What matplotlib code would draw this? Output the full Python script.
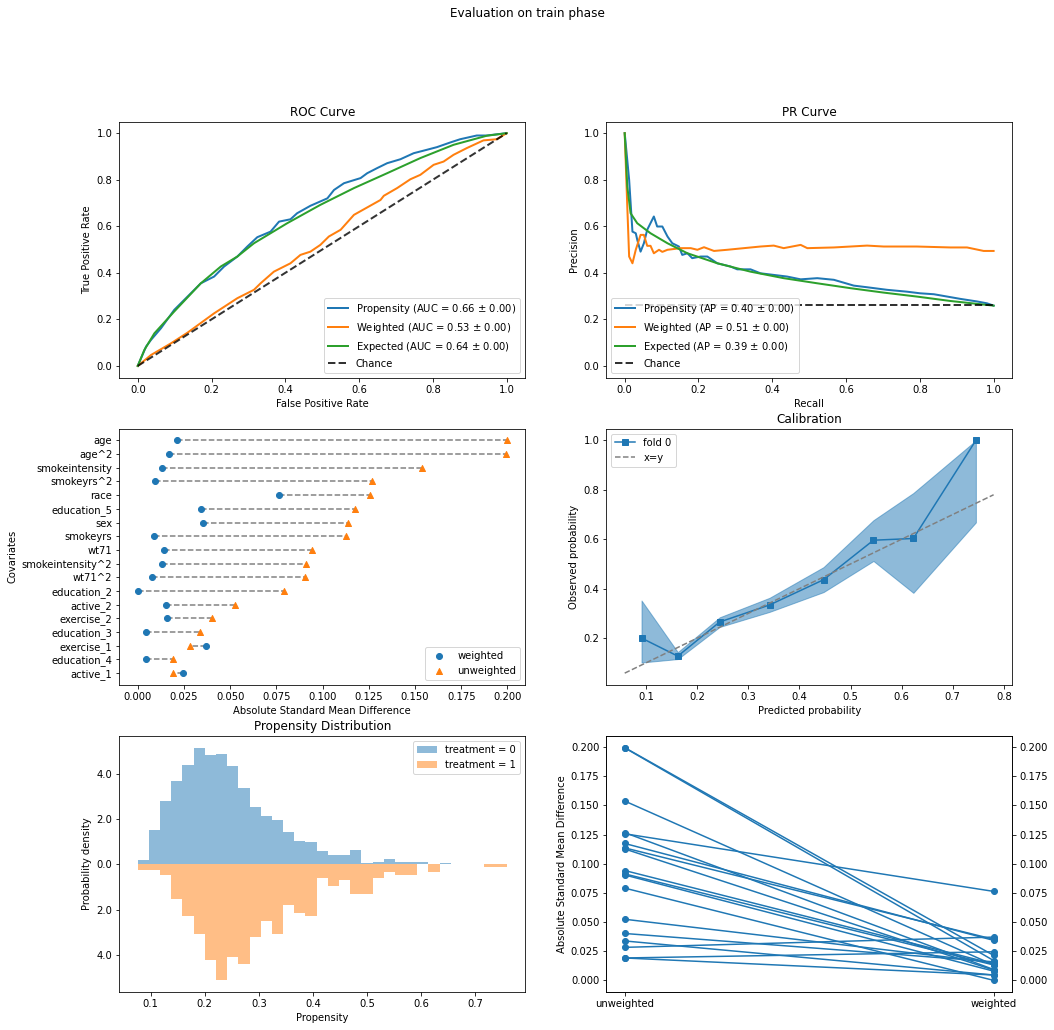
import numpy as np
import matplotlib.pyplot as plt
from matplotlib.ticker import FuncFormatter

# ROC curves
roc_prop_fpr = [0, 0.0225, 0.036, 0.063, 0.099, 0.135, 0.171, 0.207, 0.234, 0.27, 0.297, 0.324, 0.36,
                0.383, 0.414, 0.432, 0.468, 0.514, 0.532, 0.559, 0.604, 0.622, 0.649, 0.676, 0.712,
                0.748, 0.775, 0.811, 0.847, 0.874, 0.919, 0.946, 1.0]
roc_prop_tpr = [0, 0.083, 0.112, 0.162, 0.241, 0.298, 0.355, 0.384, 0.427, 0.47, 0.513, 0.553, 0.577,
                0.62, 0.63, 0.656, 0.688, 0.72, 0.756, 0.785, 0.807, 0.828, 0.85, 0.871, 0.888,
                0.914, 0.925, 0.94, 0.96, 0.974, 0.99, 0.99, 1.0]
roc_wt_fpr = [0, 0.036, 0.09, 0.135, 0.207, 0.27, 0.315, 0.333, 0.369, 0.414, 0.441, 0.468, 0.495,
              0.518, 0.55, 0.586, 0.613, 0.658, 0.667, 0.703, 0.739, 0.766, 0.802, 0.829, 0.856,
              0.892, 0.937, 0.973, 1.0]
roc_wt_tpr = [0, 0.047, 0.097, 0.143, 0.226, 0.291, 0.327, 0.355, 0.405, 0.441, 0.477, 0.491, 0.52,
              0.556, 0.585, 0.649, 0.673, 0.713, 0.731, 0.764, 0.802, 0.821, 0.864, 0.878, 0.907,
              0.936, 0.969, 0.974, 1.0]
roc_exp_fpr = [0, 0.018, 0.045, 0.099, 0.171, 0.225, 0.27, 0.315, 0.405, 0.495, 0.586, 0.676, 0.766,
               0.856, 0.946, 1.0]
roc_exp_tpr = [0, 0.069, 0.14, 0.234, 0.355, 0.427, 0.47, 0.527, 0.613, 0.692, 0.764, 0.828, 0.893,
               0.95, 0.989, 1.0]

# PR curves
pr_prop_rec = [0, 0.012, 0.021, 0.03, 0.034, 0.043, 0.052, 0.061, 0.079, 0.088, 0.102, 0.116, 0.129,
               0.147, 0.156, 0.17, 0.183, 0.206, 0.224, 0.251, 0.287, 0.305, 0.341, 0.368, 0.404,
               0.44, 0.477, 0.522, 0.567, 0.621, 0.657, 0.711, 0.765, 0.801, 0.838, 0.874, 0.91,
               0.955, 0.982, 1.0]
pr_prop_prec = [1.0, 0.8, 0.577, 0.57, 0.542, 0.491, 0.527, 0.585, 0.642, 0.599, 0.599, 0.556, 0.527,
                0.513, 0.477, 0.484, 0.463, 0.47, 0.47, 0.441, 0.427, 0.415, 0.415, 0.398, 0.391,
                0.384, 0.372, 0.377, 0.37, 0.345, 0.338, 0.327, 0.319, 0.312, 0.308, 0.298, 0.288,
                0.277, 0.269, 0.259]
pr_wt_rec = [0, 0.007, 0.012, 0.021, 0.03, 0.043, 0.052, 0.061, 0.07, 0.079, 0.093, 0.102, 0.116,
             0.152, 0.179, 0.197, 0.215, 0.242, 0.278, 0.323, 0.368, 0.404, 0.431, 0.477, 0.495,
             0.567, 0.657, 0.702, 0.792, 0.883, 0.928, 0.973, 1.0]
pr_wt_prec = [1.0, 0.685, 0.47, 0.441, 0.499, 0.563, 0.563, 0.516, 0.516, 0.484, 0.499, 0.49, 0.499,
              0.506, 0.506, 0.499, 0.51, 0.494, 0.499, 0.506, 0.513, 0.517, 0.506, 0.52, 0.506,
              0.509, 0.517, 0.513, 0.513, 0.509, 0.509, 0.494, 0.494]
pr_exp_rec = [0, 0.007, 0.016, 0.034, 0.07, 0.116, 0.17, 0.251, 0.341, 0.431, 0.522, 0.612, 0.702,
              0.792, 0.883, 1.0]
pr_exp_prec = [1.0, 0.771, 0.656, 0.613, 0.57, 0.527, 0.484, 0.441, 0.405, 0.377, 0.355, 0.334,
               0.315, 0.298, 0.279, 0.259]
pr_chance = 0.26

# covariate balance
covariates = ['age', 'age^2', 'smokeintensity', 'smokeyrs^2', 'race', 'education_5', 'sex',
              'smokeyrs', 'wt71', 'smokeintensity^2', 'wt71^2', 'education_2', 'active_2',
              'exercise_2', 'education_3', 'exercise_1', 'education_4', 'active_1']
smd_weighted = [0.0214, 0.017, 0.0132, 0.0093, 0.0763, 0.0343, 0.0352, 0.0088, 0.0142, 0.0132,
                0.0079, 0.0, 0.0153, 0.0159, 0.0046, 0.0371, 0.0046, 0.0245]
smd_unweighted = [0.1996, 0.1994, 0.1538, 0.1267, 0.1257, 0.1174, 0.1136, 0.1127, 0.0942, 0.0913,
                  0.0904, 0.0791, 0.0524, 0.0402, 0.0338, 0.0283, 0.0192, 0.0192]

# calibration
cal_pred = [0.0909, 0.1619, 0.2439, 0.3416, 0.4471, 0.5448, 0.6229, 0.7453]
cal_obs = [0.2, 0.1268, 0.265, 0.334, 0.436, 0.596, 0.603, 1.0]
cal_low = [0.101, 0.115, 0.245, 0.306, 0.386, 0.512, 0.383, 0.668]
cal_high = [0.352, 0.143, 0.284, 0.363, 0.487, 0.677, 0.787, 1.0]
diag = [0.058, 0.78]

# propensity histogram (shared bins)
bin_lo, bin_hi, n_bins = 0.076, 0.7586, 33
dens_t0 = [0.193, 1.526, 2.815, 3.704, 4.415, 5.17, 4.859, 4.904, 4.37, 3.393, 2.548, 2.148, 1.97,
           1.437, 1.037, 0.993, 0.593, 0.415, 0.415, 0.637, 0.059, 0.104, 0.237, 0.104, 0.104,
           0.104, 0, 0.059, 0, 0, 0, 0, 0]
dens_t1 = [0.252, 0.252, 0.474, 1.541, 2.296, 3.081, 4.207, 5.126, 4.074, 4.415, 3.23, 2.519, 3.081,
           1.807, 2.163, 2.296, 0.607, 0.963, 0.696, 1.319, 1.319, 0.607, 0.341, 0.474, 0.474,
           0, 0.341, 0, 0, 0, 0, 0.104, 0.104]

fig, axs = plt.subplots(3, 2, figsize=(1054 / 72, 1030 / 72), dpi=72)
fig.subplots_adjust(left=0.1132, right=0.9602, top=0.882, bottom=0.0369, wspace=0.2, hspace=0.2)
fig.suptitle('Evaluation on train phase', y=0.993)

# ROC
ax = axs[0, 0]
ax.plot(roc_prop_fpr, roc_prop_tpr, lw=2, label='Propensity (AUC = 0.66 $\\pm$ 0.00)')
ax.plot(roc_wt_fpr, roc_wt_tpr, lw=2, label='Weighted (AUC = 0.53 $\\pm$ 0.00)')
ax.plot(roc_exp_fpr, roc_exp_tpr, lw=2, label='Expected (AUC = 0.64 $\\pm$ 0.00)')
ax.plot([0, 1], [0, 1], 'k--', lw=2, alpha=0.8, label='Chance')
ax.set_title('ROC Curve')
ax.set_xlabel('False Positive Rate')
ax.set_ylabel('True Positive Rate')
ax.legend(loc='lower right')

# PR
ax = axs[0, 1]
ax.plot(pr_prop_rec, pr_prop_prec, lw=2, label='Propensity (AP = 0.40 $\\pm$ 0.00)')
ax.plot(pr_wt_rec, pr_wt_prec, lw=2, label='Weighted (AP = 0.51 $\\pm$ 0.00)')
ax.plot(pr_exp_rec, pr_exp_prec, lw=2, label='Expected (AP = 0.39 $\\pm$ 0.00)')
ax.plot([0, 1], [pr_chance, pr_chance], 'k--', lw=2, alpha=0.8, label='Chance')
ax.set_ylim(-0.05, 1.05)
ax.set_title('PR Curve')
ax.set_xlabel('Recall')
ax.set_ylabel('Precision')
ax.legend(loc='lower left')

# covariate balance
ax = axs[1, 0]
ax.hlines(covariates, smd_weighted, smd_unweighted, colors='grey', linestyles='--', lw=1.5)
ax.scatter(smd_weighted, covariates, label='weighted', zorder=3)
ax.scatter(smd_unweighted, covariates, marker='^', label='unweighted', zorder=3)
ax.invert_yaxis()
ax.set_xlabel('Absolute Standard Mean Difference')
ax.set_ylabel('Covariates')
ax.legend(loc='lower right')

# calibration
ax = axs[1, 1]
ax.fill_between(cal_pred, cal_low, cal_high, color='C0', alpha=0.5, lw=1)
ax.plot(cal_pred, cal_obs, 's-', color='C0', label='fold 0')
ax.plot(diag, diag, '--', color='grey', label='x=y')
ax.set_title('Calibration')
ax.set_xlabel('Predicted probability')
ax.set_ylabel('Observed probability')
ax.legend(loc='upper left')

# propensity distribution
ax = axs[2, 0]
edges = np.linspace(bin_lo, bin_hi, n_bins + 1)
ax.bar(edges[:-1], dens_t0, width=np.diff(edges), align='edge', color='C0', alpha=0.5,
       lw=0, label='treatment = 0')
ax.bar(edges[:-1], -np.array(dens_t1), width=np.diff(edges), align='edge', color='C1', alpha=0.5,
       lw=0, label='treatment = 1')
ax.yaxis.set_major_formatter(FuncFormatter(lambda v, p: f'{abs(v):.1f}'))
ax.set_title('Propensity Distribution')
ax.set_xlabel('Propensity')
ax.set_ylabel('Probability density')
ax.legend(loc='upper right')

# slope plot
ax = axs[2, 1]
for u, w in zip(smd_unweighted, smd_weighted):
    ax.plot(['unweighted', 'weighted'], [u, w], 'o-', color='C0')
ax.set_ylabel('Absolute Standard Mean Difference')
ax2 = ax.twinx()
ax2.set_ylim(ax.get_ylim())

fig.savefig('out.png', dpi=72)
